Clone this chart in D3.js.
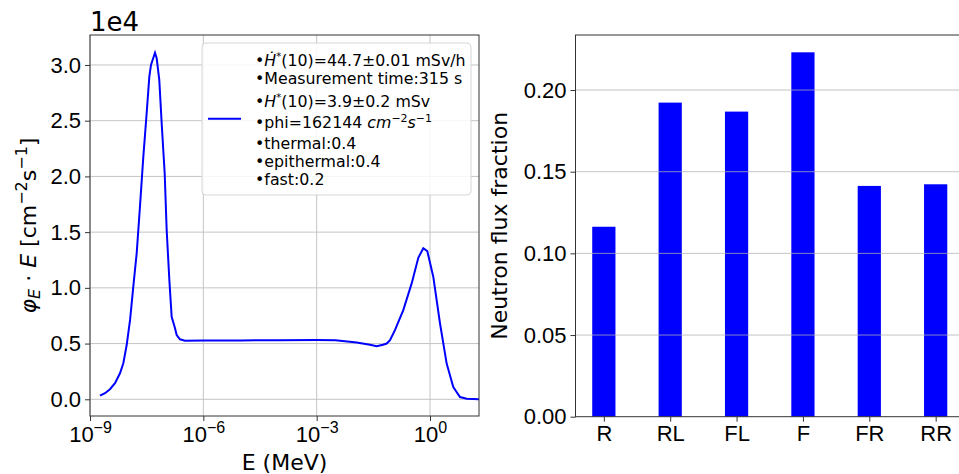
<!DOCTYPE html>
<meta charset="utf-8">
<script src="https://d3js.org/d3.v7.min.js"></script>
<style>
  body { margin: 0; background: #fff; }
  svg { font-family: "DejaVu Sans", sans-serif; }
  .tick text { fill: #000; }
  .tick line { stroke: #333; }
</style>
<body>
<div id="viz"></div>
<script>
// neutron spectrum: energy in MeV, phi_E * E in units of 1e4 cm^-2 s^-1
const energy = [1.84e-9, 2.49e-9, 3.38e-9, 4.59e-9, 6.22e-9, 7.62e-9, 9.35e-9, 1.15e-8, 1.40e-8,
  1.72e-8, 2.10e-8, 2.58e-8, 3.16e-8, 3.72e-8, 4.12e-8, 5.25e-8, 5.82e-8, 6.82e-8, 7.89e-8,
  9.48e-8, 1.07e-7, 1.26e-7, 1.45e-7, 1.78e-7, 1.97e-7, 2.41e-7, 3.27e-7, 1e-6, 1e-5, 1e-4,
  1e-3, 3.16e-3, 1.15e-2, 2.57e-2, 3.89e-2, 5.69e-2, 7.13e-2, 8.73e-2, 0.118, 0.196, 0.327,
  0.490, 0.664, 0.847, 1.22, 1.84, 2.76, 4.13, 6.22, 9.35, 19.8];
const phiE = [0.032, 0.054, 0.090, 0.144, 0.233, 0.323, 0.487, 0.712, 1.011,
  1.310, 1.728, 2.177, 2.567, 2.895, 3.000, 3.110, 3.060, 2.866, 2.477,
  2.028, 1.519, 1.071, 0.741, 0.637, 0.577, 0.538, 0.526, 0.527, 0.528, 0.530,
  0.532, 0.530, 0.510, 0.490, 0.476, 0.490, 0.500, 0.530, 0.620, 0.800, 1.040,
  1.270, 1.355, 1.330, 1.100, 0.680, 0.320, 0.110, 0.020, 0.005, 0.0];
const energyTicks = [1e-9, 1e-6, 1e-3, 1];
const energyTickExp = ["−9", "−6", "−3", "0"];
const phiTicks = [0, 0.5, 1.0, 1.5, 2.0, 2.5, 3.0];

// flux fraction per detector position
const positions = ["R", "RL", "FL", "F", "FR", "RR"];
const fluxFraction = [0.1163, 0.1923, 0.1868, 0.2231, 0.1413, 0.1423];
const fractionTicks = [0, 0.05, 0.10, 0.15, 0.20];

const W = 959, H = 474;
const fsTick = 22, fsSup = 16;
const svg = d3.select("#viz").append("svg").attr("width", W).attr("height", H);

// ---------- left panel ----------
const L = {left: 90, right: 479, top: 35, bottom: 416};
const x = d3.scaleLog().domain([1e-9, 19.8]).range([L.left, L.right]);
const y = d3.scaleLinear().domain([-0.15, 3.269]).range([L.bottom, L.top]);

const gl = svg.append("g");
// grid
gl.append("g").selectAll("line").data(energyTicks).join("line")
  .attr("x1", d => x(d)).attr("x2", d => x(d)).attr("y1", L.top).attr("y2", L.bottom)
  .attr("stroke", "#c4c4c4").attr("stroke-width", 1);
gl.append("g").selectAll("line").data(phiTicks).join("line")
  .attr("x1", L.left).attr("x2", L.right).attr("y1", d => y(d)).attr("y2", d => y(d))
  .attr("stroke", "#c4c4c4").attr("stroke-width", 1);

const line = d3.line().x((d, i) => x(energy[i])).y(d => y(d));
gl.append("path").datum(phiE).attr("d", line)
  .attr("fill", "none").attr("stroke", "#0000ff").attr("stroke-width", 2);

// axes
const xAxisL = gl.append("g").attr("transform", `translate(0,${L.bottom})`)
  .call(d3.axisBottom(x).tickValues(energyTicks).tickSize(5).tickPadding(4).tickFormat(() => ""));
xAxisL.select(".domain").remove();
xAxisL.selectAll(".tick text").each(function(d, i) {
  const t = d3.select(this).attr("font-size", fsTick).attr("dy", null).attr("y", 26);
  t.append("tspan").text("10");
  t.append("tspan").attr("font-size", fsSup).attr("dy", -9).text(energyTickExp[i]);
});

const yAxisL = gl.append("g").attr("transform", `translate(${L.left},0)`)
  .call(d3.axisLeft(y).tickValues(phiTicks).tickSize(5).tickPadding(4).tickFormat(d3.format(".1f")));
yAxisL.select(".domain").remove();
yAxisL.selectAll(".tick text").attr("font-size", fsTick);

gl.append("rect").attr("x", L.left).attr("y", L.top)
  .attr("width", L.right - L.left).attr("height", L.bottom - L.top)
  .attr("fill", "none").attr("stroke", "#333").attr("stroke-width", 1);

gl.append("text").attr("x", L.left).attr("y", 31).attr("font-size", 26).text("1e4");

gl.append("text").attr("x", (L.left + L.right) / 2).attr("y", 470)
  .attr("text-anchor", "middle").attr("font-size", fsTick).text("E (MeV)");

const yl = gl.append("text").attr("transform", `translate(36,${(L.top + L.bottom) / 2}) rotate(-90)`)
  .attr("text-anchor", "middle").attr("font-size", fsTick);
yl.append("tspan").attr("font-style", "italic").text("φ");
yl.append("tspan").attr("font-style", "italic").attr("font-size", fsSup).attr("dy", 4).text("E");
yl.append("tspan").attr("dy", -4).text(" · ");
yl.append("tspan").attr("font-style", "italic").text("E");
yl.append("tspan").text(" [cm");
yl.append("tspan").attr("font-size", fsSup).attr("dy", -9).text("−2");
yl.append("tspan").attr("dy", 9).text("s");
yl.append("tspan").attr("font-size", fsSup).attr("dy", -9).text("−1");
yl.append("tspan").attr("dy", 9).text("]");

// legend
const lg = gl.append("g");
lg.append("rect").attr("x", 202).attr("y", 43).attr("width", 269).attr("height", 152)
  .attr("rx", 4).attr("fill", "#fff").attr("fill-opacity", 0.85)
  .attr("stroke", "#d6d6d6").attr("stroke-width", 1);
lg.append("line").attr("x1", 208).attr("x2", 241).attr("y1", 118.7).attr("y2", 118.7)
  .attr("stroke", "#0000ff").attr("stroke-width", 2);

const fs = 15.8;
function legendRow(yb) {
  return lg.append("text").attr("x", 255).attr("y", yb).attr("font-size", fs);
}
let r = legendRow(65.5);
r.append("tspan").text("•");
r.append("tspan").attr("font-style", "italic").text("Ḣ");
r.append("tspan").attr("font-size", 10).attr("dy", -6).text("*");
r.append("tspan").attr("dy", 6).text("(10)=44.7±0.01 mSv/h");
legendRow(84.3).text("•Measurement time:315 s");
r = legendRow(106.7);
r.append("tspan").text("•");
r.append("tspan").attr("font-style", "italic").text("H");
r.append("tspan").attr("font-size", 10).attr("dy", -6).text("*");
r.append("tspan").attr("dy", 6).text("(10)=3.9±0.2 mSv");
r = legendRow(127.7);
r.append("tspan").text("•phi=162144 ");
r.append("tspan").attr("font-style", "italic").text("cm");
r.append("tspan").attr("font-size", 11).attr("dy", -6).text("−2");
r.append("tspan").attr("font-style", "italic").attr("dy", 6).text("s");
r.append("tspan").attr("font-size", 11).attr("dy", -6).text("−1");
legendRow(149).text("•thermal:0.4");
legendRow(166.7).text("•epithermal:0.4");
legendRow(185).text("•fast:0.2");

// ---------- right panel ----------
const R = {left: 575.5, right: 964, top: 35, bottom: 416.7};
const xb = d3.scaleLinear().domain([-0.427, 5.427]).range([R.left, R.right]);
const yb = d3.scaleLinear().domain([0, 0.2337]).range([R.bottom, R.top]);
const barW = 0.35;

const gr = svg.append("g");
gr.append("g").selectAll("rect").data(fluxFraction).join("rect")
  .attr("x", (d, i) => xb(i - barW / 2))
  .attr("width", xb(barW) - xb(0))
  .attr("y", d => yb(d))
  .attr("height", d => yb(0) - yb(d))
  .attr("fill", "#0000ff");

gr.append("g").selectAll("line").data(fractionTicks.slice(1)).join("line")
  .attr("x1", R.left).attr("x2", R.right).attr("y1", d => yb(d)).attr("y2", d => yb(d))
  .attr("stroke", "#b0b0b0").attr("stroke-opacity", 0.75).attr("stroke-width", 1);

const xAxisR = gr.append("g").attr("transform", `translate(0,${R.bottom})`)
  .call(d3.axisBottom(xb).tickValues(d3.range(positions.length)).tickSize(5).tickPadding(4)
    .tickFormat(i => positions[i]));
xAxisR.select(".domain").remove();
xAxisR.selectAll(".tick text").attr("font-size", fsTick);

const yAxisR = gr.append("g").attr("transform", `translate(${R.left},0)`)
  .call(d3.axisLeft(yb).tickValues(fractionTicks).tickSize(5).tickPadding(4).tickFormat(d3.format(".2f")));
yAxisR.select(".domain").remove();
yAxisR.selectAll(".tick text").attr("font-size", fsTick);

gr.append("rect").attr("x", R.left).attr("y", R.top)
  .attr("width", R.right - R.left).attr("height", R.bottom - R.top)
  .attr("fill", "none").attr("stroke", "#333").attr("stroke-width", 1);

gr.append("text").attr("transform", `translate(507,${(R.top + R.bottom) / 2}) rotate(-90)`)
  .attr("text-anchor", "middle").attr("font-size", fsTick).text("Neutron flux fraction");
</script>
</body>
